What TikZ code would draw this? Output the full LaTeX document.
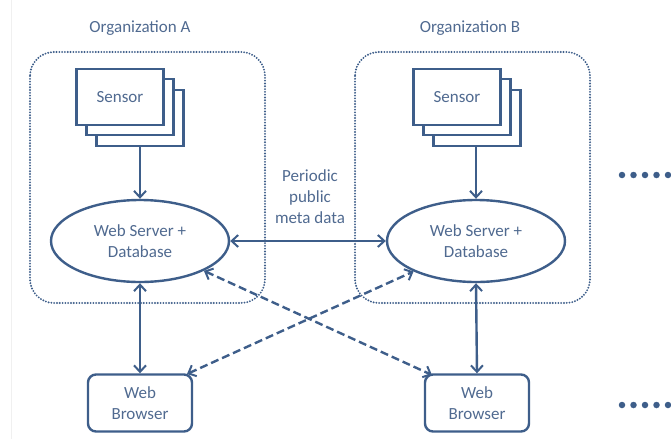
\documentclass[tikz,border=0pt]{standalone}
\usepackage{fontspec}
\setmainfont{Carlito}
\usetikzlibrary{arrows.meta,shapes.geometric}
\definecolor{ink}{RGB}{62,94,138}
\definecolor{txt}{RGB}{80,106,144}
\tikzset{
  tip/.tip={Straight Barb[length=6.5pt,width=12pt,line width=2pt]},
  link/.style={draw=ink, line width=2.4pt, {tip}-{tip}},
  feed/.style={draw=ink, line width=2.4pt, -{tip}},
  remote/.style={link, dash pattern=on 8pt off 4pt},
  orgbox/.style={draw=ink, line width=2.1pt, dash pattern=on 0pt off 2.8pt, line cap=round, rounded corners=24pt},
  sheet/.style={draw=ink, line width=2.4pt, fill=white, minimum width=87pt, minimum height=56pt, inner sep=0pt},
  server/.style={ellipse, draw=ink, line width=2.4pt, fill=white, minimum width=178pt, minimum height=82pt, inner sep=0pt, align=center, text=txt, font=\fontsize{17}{21}\selectfont},
  browser/.style={draw=ink, line width=2.4pt, rounded corners=8pt, minimum width=104pt, minimum height=57pt, inner sep=0pt, align=center, text=txt, font=\fontsize{17}{21}\selectfont},
  caption/.style={text=txt, font=\fontsize{17}{21}\selectfont, align=center, inner sep=0pt},
  more/.style={fill=ink, circle, inner sep=0pt, minimum size=6.5pt}
}
\begin{document}
\begin{tikzpicture}[x=1pt,y=-1pt]
\useasboundingbox (0,0) rectangle (671,439);
\draw[gray!12, line width=0.8pt] (11,0) -- (11,439);

% organisation frames
\draw[orgbox] (30,52) rectangle (265,303);
\draw[orgbox] (355,52) rectangle (590,303);
\node[caption] (orgA) at (140,28) {Organization A};
\node[caption] (orgB) at (470,28) {Organization B};

% stacked sensor sheets
\foreach \org/\cx in {A/120,B/457}{
  \node[sheet] (s\org3) at (\cx+20,118) {};
  \node[sheet] (s\org2) at (\cx+10,107) {};
  \node[sheet, text=txt, font=\fontsize{17}{21}\selectfont] (s\org1) at (\cx,97) {Sensor};
}

% servers
\node[server] (wA) at (140,241) {Web Server +\\Database};
\node[server] (wB) at (476,241) {Web Server +\\Database};

% browsers
\node[browser] (bA) at (140,403) {Web\\Browser};
\node[browser] (bB) at (477,403) {Web\\Browser};

% sensor feeds
\draw[feed] (sA3.south -| wA.north) -- (wA.north);
\draw[feed] (sB3.south -| wB.north) -- (wB.north);

% metadata exchange
\draw[link] (wA.east) -- (wB.west);
\node[caption] (meta) at (310,197) {Periodic\\public\\meta data};

% local access
\draw[link] (wA.south) -- (bA.north);
\draw[link] (wB.south) -- (bB.north);

% remote access
\coordinate (bAtr) at (187,374);
\coordinate (bBtl) at (432,375);
\draw[remote] (bAtr) -- (wB.-154);
\draw[remote] (wA.-25) -- (bBtl);

% further organisations
\foreach \i in {0,...,4}{
  \node[more] (mt\i) at (622+11.5*\i,175) {};
  \node[more] (mb\i) at (622+11.5*\i,405) {};
}
\end{tikzpicture}
\end{document}
